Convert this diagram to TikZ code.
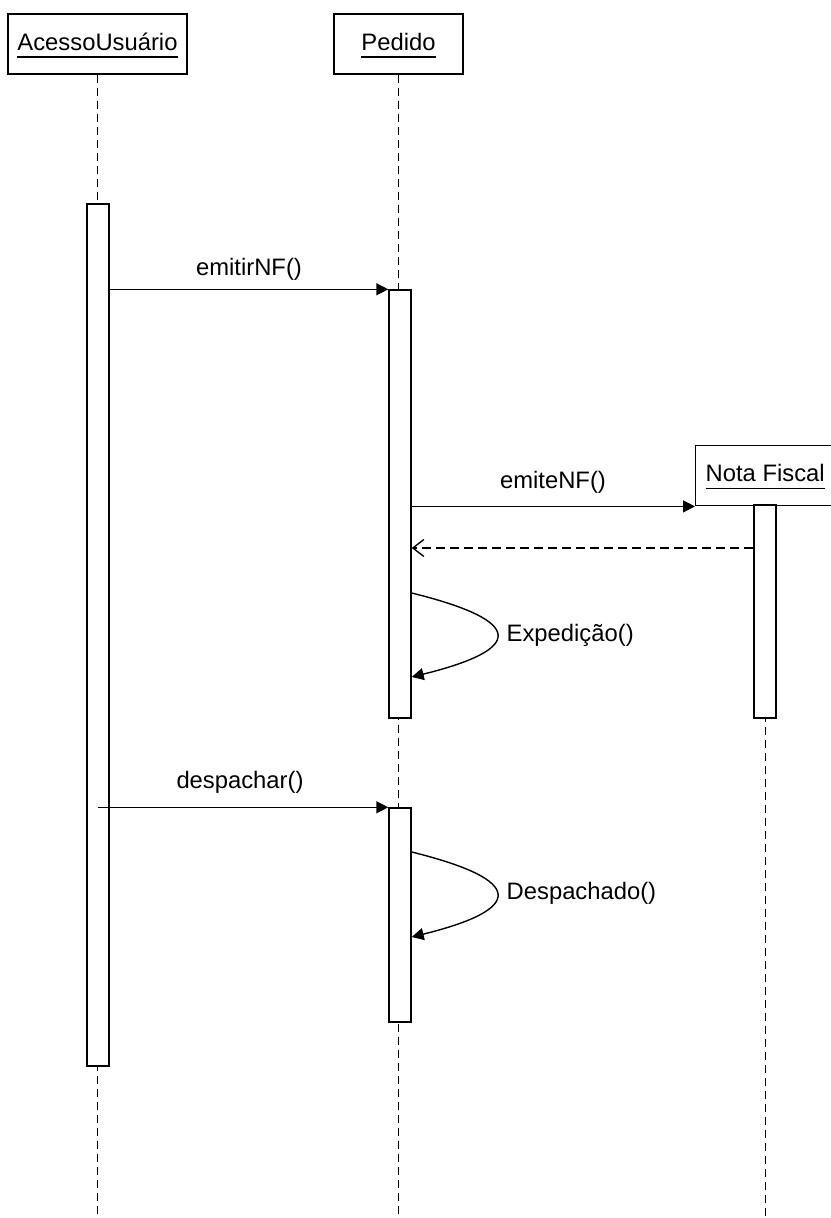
\documentclass[tikz,border=0pt]{standalone}
\usepackage{fontspec}
\setmainfont{Liberation Sans}
\usetikzlibrary{arrows.meta}

% underlined object name (rule below the baseline)
\newcommand\objname[1]{\setbox0\hbox{#1}\rlap{\rule[-7.6pt]{\wd0}{1.3pt}}\box0}

\begin{document}
\begin{tikzpicture}[x=1pt, y=-1pt, line width=1.4pt,
  every node/.style={font=\fontsize{23.8}{28}\selectfont, inner sep=0pt},
  obj/.style={draw, fill=white, minimum height=60pt, text height=17pt, text depth=5pt},
  bar/.style={draw, fill=white, minimum width=22pt},
  life/.style={dash pattern=on 8pt off 5pt},
  msg/.style={-{Triangle[length=12pt,width=12pt]}},
  ret/.style={dash pattern=on 9pt off 5pt, -{Straight Barb[length=11pt,width=17pt]}},
  lbl/.style={anchor=base}]

  % page
  \path[use as bounding box, fill=white] (0,0) rectangle (830,1218);
  \coordinate (bottom) at (0,1218);

  % objects
  \node[obj, minimum width=179pt] (acc) at (97.5,44) {\objname{AcessoUsuário}};
  \node[obj, minimum width=129pt] (ped) at (398.5,44) {\objname{Pedido}};

  % lifelines
  \draw[life] (acc.south) -- (acc.south |- bottom);
  \draw[life] (ped.south) -- (ped.south |- bottom);

  % activation bars
  \node[bar, minimum height=862pt] (a1) at (98,635) {};
  \node[bar, minimum height=428pt] (p1) at (400,504) {};
  \node[bar, minimum height=214pt] (p2) at (400,915) {};

  % Nota Fiscal, created by emiteNF()
  \node[obj, minimum width=139pt, anchor=north west] (nf) at (695,445) {\objname{Nota Fiscal}};
  \draw[life] (nf.south) -- (nf.south |- bottom);
  \node[bar, minimum height=213pt] (n1) at (765,611.5) {};

  % message rows
  \coordinate (y-ret) at (0,548);
  \coordinate (y-e1) at (0,593);
  \coordinate (y-e2) at (0,677);
  \coordinate (y-d1) at (0,852);
  \coordinate (y-d2) at (0,937);

  % emitirNF()
  \draw[msg] (a1.east |- p1.north) -- (p1.north west);
  \node[lbl] (l-emitir) at (249,275) {emitirNF()};

  % emiteNF()
  \draw[msg] (p1.east |- nf.south west) -- (nf.south west);
  \node[lbl] (l-emite) at (553,488) {emiteNF()};

  % return
  \draw[ret] (n1.west |- y-ret) -- (p1.east |- y-ret);

  % Expedição()
  \draw[msg] (p1.east |- y-e1) .. controls (525,621) and (525,649) .. (p1.east |- y-e2);
  \node[anchor=west] (l-exp) at (506,635) {Expedição()};

  % despachar()
  \draw[msg] (a1.center |- p2.north) -- (p2.north west);
  \node[lbl] (l-desp) at (240,788) {despachar()};

  % Despachado()
  \draw[msg] (p2.east |- y-d1) .. controls (525,880) and (525,909) .. (p2.east |- y-d2);
  \node[anchor=west] (l-despd) at (506,893) {Despachado()};
\end{tikzpicture}
\end{document}
